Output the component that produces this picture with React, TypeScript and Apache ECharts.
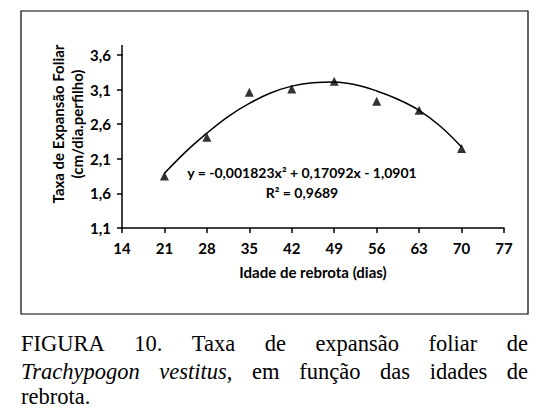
import React, { useEffect, useRef } from "react";
import * as echarts from "echarts";

// Observed data (Idade de rebrota, dias) -> Taxa de expansão foliar
const days = [21, 28, 35, 42, 49, 56, 63, 70];
const rates = [1.85, 2.41, 3.06, 3.11, 3.22, 2.93, 2.80, 2.25];

// Trend curve
const curveDays = [21, 24.5, 28, 31.5, 35, 38.5, 42, 45.5, 49, 52.5, 56, 59.5, 63, 66.5, 70];
const curveRates = [1.89, 2.2, 2.47, 2.71, 2.9, 3.05, 3.15, 3.2, 3.21, 3.17, 3.08, 2.96, 2.8, 2.57, 2.27];

const xTicks = { min: 14, max: 77, step: 7 };
const yTicks = { min: 1.1, max: 3.6, step: 0.5 };

const equationText = "y = -0,001823x\u00B2 + 0,17092x - 1,0901";
const r2Text = "R\u00B2 = 0,9689";
const xTitle = "Idade de rebrota (dias)";
const yTitle = "Taxa de Expansão Foliar\n(cm/dia.perfilho)";

type Seg = { t: string; i?: boolean };
const captionLine1: Seg[][] = [
  [{ t: "FIGURA" }], [{ t: "10." }], [{ t: "Taxa" }], [{ t: "de" }],
  [{ t: "expansão" }], [{ t: "foliar" }], [{ t: "de" }],
];
const captionLine2: Seg[][] = [
  [{ t: "Trachypogon", i: true }], [{ t: "vestitus", i: true }, { t: "," }],
  [{ t: "em" }], [{ t: "função" }], [{ t: "das" }], [{ t: "idades" }], [{ t: "de" }],
];
const captionLine3: Seg[][] = [[{ t: "rebrota." }]];

const CAP_FONT_SIZE = 22.5;
const CAP_FAMILY = "Liberation Serif";
const CHART_FONT = "Lato";

function buildCaption(): any[] {
  const canvas = document.createElement("canvas");
  const ctx = canvas.getContext("2d")!;
  const measure = (s: Seg) => {
    ctx.font = `${s.i ? "italic " : ""}${CAP_FONT_SIZE}px "${CAP_FAMILY}"`;
    return ctx.measureText(s.t).width;
  };
  ctx.font = `${CAP_FONT_SIZE}px "${CAP_FAMILY}"`;
  const spaceW = ctx.measureText(" ").width;
  const left = 21;
  const right = 528;
  const lines: [Seg[][], number, boolean][] = [
    [captionLine1, 343, true],
    [captionLine2, 371, true],
    [captionLine3, 396, false],
  ];
  const els: any[] = [];
  for (const [words, y, justify] of lines) {
    const widths = words.map((w) => w.reduce((a, s) => a + measure(s), 0));
    const total = widths.reduce((a, b) => a + b, 0);
    const gap = justify && words.length > 1 ? (right - left - total) / (words.length - 1) : spaceW;
    let x = left;
    words.forEach((w, wi) => {
      let sx = x;
      for (const s of w) {
        els.push({
          type: "text",
          x: sx,
          y,
          style: {
            text: s.t,
            fontFamily: CAP_FAMILY,
            fontSize: CAP_FONT_SIZE,
            fontStyle: s.i ? "italic" : "normal",
            fontWeight: "normal",
            fill: "#000",
            align: "left",
            verticalAlign: "middle",
          },
        });
        sx += measure(s);
      }
      x += widths[wi] + gap;
    });
  }
  return els;
}

export default function App() {
  const ref = useRef<HTMLDivElement>(null);

  useEffect(() => {
    if (!ref.current) return;
    const chart = echarts.init(ref.current, undefined, { renderer: "svg" });
    const yOff = yTicks.min;
    const fmtY = (v: number) => (v + yOff).toFixed(1).replace(".", ",");
    const boldText = (text: string, x: number, y: number, size: number, extra: any = {}) => ({
      type: "text",
      x,
      y,
      ...extra,
      style: {
        text,
        fontFamily: CHART_FONT,
        fontWeight: "bold",
        fontSize: size,
        fill: "#000",
        align: "center",
        verticalAlign: "middle",
        ...(extra.style || {}),
      },
    });

    const option: any = {
      animation: false,
      backgroundColor: "#fff",
      grid: { left: 122, top: 55, right: 45, bottom: 189, containLabel: false },
      xAxis: {
        type: "value",
        min: xTicks.min,
        max: xTicks.max,
        interval: xTicks.step,
        name: xTitle,
        nameLocation: "middle",
        nameGap: 36,
        nameTextStyle: { fontFamily: CHART_FONT, fontWeight: "bold", fontSize: 15, color: "#000" },
        axisLine: { lineStyle: { color: "#000", width: 1.5 } },
        axisTick: { show: true, inside: false, length: 5, lineStyle: { color: "#000", width: 1.5 } },
        axisLabel: { color: "#000", fontFamily: CHART_FONT, fontWeight: "bold", fontSize: 15, margin: 12 },
        splitLine: { show: false },
      },
      yAxis: {
        type: "value",
        min: 0,
        max: yTicks.max - yOff,
        interval: yTicks.step,
        axisLine: { show: true, lineStyle: { color: "#000", width: 1.5 } },
        axisTick: { show: true, inside: false, length: 5, lineStyle: { color: "#000", width: 1.5 } },
        axisLabel: {
          color: "#000",
          fontFamily: CHART_FONT,
          fontWeight: "bold",
          fontSize: 15,
          margin: 11,
          formatter: fmtY,
        },
        splitLine: { show: false },
      },
      series: [
        {
          type: "line",
          data: curveDays.map((d, i) => [d, curveRates[i] - yOff]),
          smooth: 0.4,
          showSymbol: false,
          symbol: "none",
          lineStyle: { color: "#000", width: 1.5 },
          z: 2,
        },
        {
          type: "scatter",
          data: days.map((d, i) => [d, rates[i] - yOff]),
          symbol: "triangle",
          symbolSize: 9,
          itemStyle: { color: "#000" },
          z: 3,
        },
      ],
      graphic: [
        {
          type: "rect",
          shape: { x: 21, y: 11, width: 507, height: 303 },
          style: { fill: "none", stroke: "#000", lineWidth: 1.2 },
          silent: true,
        },
        {
          type: "line",
          shape: { x1: 122, y1: 45, x2: 122, y2: 56 },
          style: { stroke: "#000", lineWidth: 1.5 },
        },
        boldText(yTitle, 67, 124, 15, { rotation: Math.PI / 2, style: { lineHeight: 19 } }),
        boldText(equationText, 302, 172, 14),
        boldText(r2Text, 302, 192, 14),
        ...buildCaption(),
      ],
    };
    chart.setOption(option);
    return () => chart.dispose();
  }, []);

  return (
    <div
      ref={ref}
      style={{ position: "fixed", left: 0, top: 0, width: 549, height: 417, background: "#fff" }}
    />
  );
}
